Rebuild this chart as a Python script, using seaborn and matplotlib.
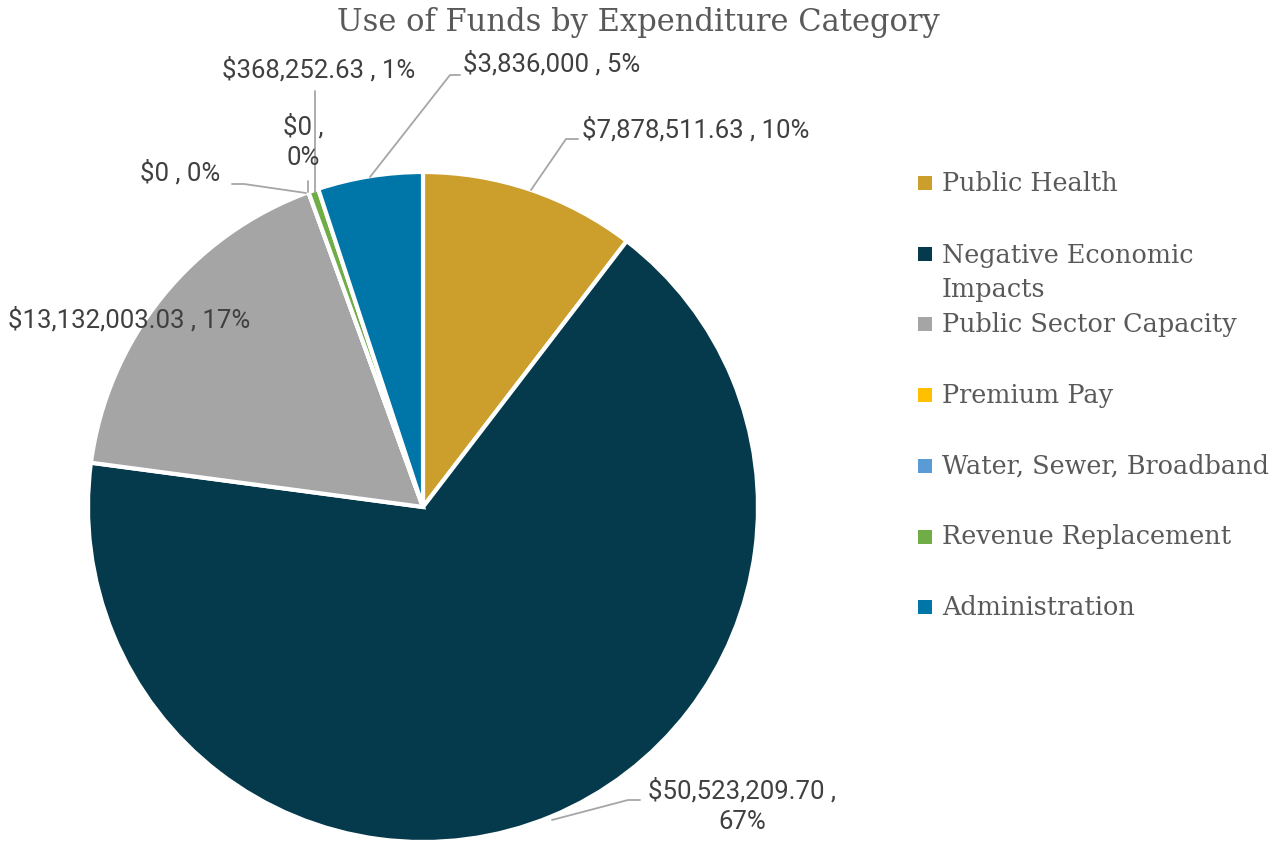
import matplotlib.pyplot as plt
import seaborn as sns
import numpy as np

# data
categories = ['Public Health', 'Negative Economic\nImpacts', 'Public Sector Capacity',
              'Premium Pay', 'Water, Sewer, Broadband', 'Revenue Replacement', 'Administration']
amounts = [7878511.63, 50523209.70, 13132003.03, 0, 0, 368252.63, 3836000]
amount_labels = ['$7,878,511.63', '$50,523,209.70', '$13,132,003.03', '$0', '$0',
                 '$368,252.63', '$3,836,000']
pct_labels = ['10%', '67%', '17%', '0%', '0%', '1%', '5%']
colors = ['#CC9E2C', '#043A4B', '#A5A5A5', '#FFC000', '#5B9BD5', '#70AD47', '#0075A8']

sns.set_theme(style='white')
plt.rcParams['font.family'] = ['Roboto', 'DejaVu Sans']

W, H = 1288, 841
fig = plt.figure(figsize=(W / 100, H / 100), dpi=100)
ax = fig.add_axes([0, 0, 1, 1])

palette = sns.color_palette(colors)
cx, cy, r = 423, H - 507, 335
ax.pie(amounts, colors=palette, startangle=90, counterclock=False,
       center=(cx, cy), radius=r, frame=True,
       wedgeprops=dict(edgecolor='white', linewidth=3))
ax.set_xlim(0, W)
ax.set_ylim(0, H)
ax.axis('off')

# data labels (text position, leader line points) in pixel coords from top
label_cfg = [
    dict(text_xy=(582, 130), ha='left', line=[(531, 190), (566, 139), (578, 139)], wrap=False),
    dict(text_xy=(742, 806), ha='center', line=[(552, 820), (628, 800), (640, 800)], wrap=True),
    dict(text_xy=(8, 320), ha='left', line=None, wrap=False),
    dict(text_xy=(140, 173), ha='left', line=[(232, 184), (244, 184), (306, 193)], wrap=False),
    dict(text_xy=(303, 142), ha='center', line=[(308, 181), (308, 192)], wrap=True),
    dict(text_xy=(222, 70), ha='left', line=[(315, 91), (315, 192)], wrap=False),
    dict(text_xy=(463, 64), ha='left', line=[(370, 177), (450, 75), (460, 75)], wrap=False),
]
for amt, pct, cfg in zip(amount_labels, pct_labels, label_cfg):
    sep = ' ,\n' if cfg['wrap'] else ' , '
    if cfg['line'] is not None:
        xs = [p[0] for p in cfg['line']]
        ys = [H - p[1] for p in cfg['line']]
        ax.plot(xs, ys, color='#A6A6A6', linewidth=1.3, zorder=1)
    x, y = cfg['text_xy']
    ax.text(x, H - y, amt + sep + pct, ha=cfg['ha'], va='center', fontsize=18.5,
            color='#404040', linespacing=1.3, zorder=5)

# title
ax.text(638, H - 22, 'Use of Funds by Expenditure Category', ha='center', va='center',
        fontsize=22, color='#595959', family=['DejaVu Serif'])

# legend
for i, (cat, col) in enumerate(zip(categories, palette)):
    ly = H - (183 + i * 70.7)
    ax.scatter([925], [ly], marker='s', s=90, color=col, linewidths=0, zorder=5)
    ty = ly - 18.5 if '\n' in cat else ly
    ax.text(942, ty, cat, ha='left', va='center',
            fontsize=18.4, color='#595959', family=['DejaVu Serif'], linespacing=1.45)

fig.savefig('out.png', dpi=100)
plt.close(fig)
